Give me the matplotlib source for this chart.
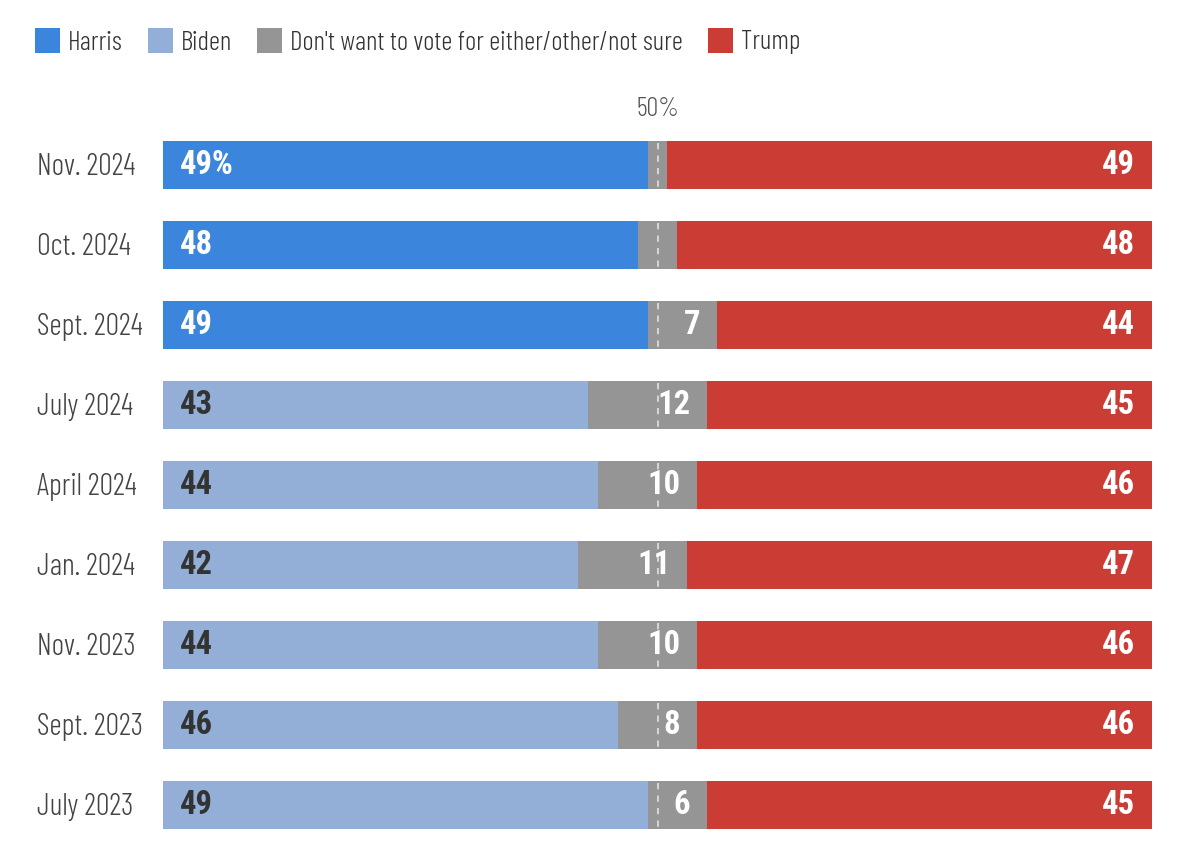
import matplotlib
matplotlib.use("Agg")
import matplotlib.pyplot as plt
from matplotlib.patches import Rectangle

# ---- data ----
periods = ["Nov. 2024", "Oct. 2024", "Sept. 2024", "July 2024", "April 2024",
           "Jan. 2024", "Nov. 2023", "Sept. 2023", "July 2023"]
dem_candidate = ["Harris", "Harris", "Harris", "Biden", "Biden",
                 "Biden", "Biden", "Biden", "Biden"]
dem_values = [49, 48, 49, 43, 44, 42, 44, 46, 49]
other_values = [2, 4, 7, 12, 10, 11, 10, 8, 6]
trump_values = [49, 48, 44, 45, 46, 47, 46, 46, 45]
legend_labels = ["Harris", "Biden", "Don't want to vote for either/other/not sure", "Trump"]

# ---- style ----
colors = {"Harris": "#3B86DC", "Biden": "#93AFD7", "Other": "#959595", "Trump": "#CA3C34"}
label_colors = {"Harris": "white", "Biden": "#333333"}
LIGHT = dict(family=["Barlow Condensed", "Roboto Condensed"], weight=300)
BOLD = dict(family=["Roboto Condensed"], weight="bold")
W, H = 1196, 858

fig = plt.figure(figsize=(W / 100, H / 100), dpi=100)
renderer = fig.canvas.get_renderer()


def fit_size(text, target_px, props, base=20):
    t = fig.text(0, 0, text, fontsize=base, **props)
    w = t.get_window_extent(renderer=renderer).width
    t.remove()
    return base * target_px / w


legend_fs = fit_size(legend_labels[2], 392, LIGHT)
cat_fs = fit_size("Nov. 2024", 99, LIGHT)
pct_fs = fit_size("50%", 43, LIGHT)
bold_fs = fit_size("49%", 54, BOLD)

ax = fig.add_axes([163 / W, 1 - 845 / H, 989 / W, 720 / H])
ax.set_xlim(0, 100)
ax.set_ylim(len(periods) - 0.5, -0.5)
ax.axis("off")

bar_h = 0.6
pad = 1.7
for i, (p, cand, d, o, t) in enumerate(zip(periods, dem_candidate, dem_values, other_values, trump_values)):
    ax.barh(i, d, left=0, height=bar_h, color=colors[cand], linewidth=0)
    ax.barh(i, o, left=d, height=bar_h, color=colors["Other"], linewidth=0)
    ax.barh(i, t, left=d + o, height=bar_h, color=colors["Trump"], linewidth=0)
    ax.plot([50, 50], [i - bar_h / 2 + 0.02, i + bar_h / 2 - 0.02], color="#D4D4D4",
            lw=1.5, ls=(0, (3, 3)), zorder=3)
    dlabel = f"{d}%" if i == 0 else f"{d}"
    ax.text(pad, i, dlabel, ha="left", va="center", color=label_colors[cand],
            fontsize=bold_fs, zorder=4, **BOLD)
    if o >= 5:
        ax.text(d + o - pad, i, f"{o}", ha="right", va="center", color="white",
                fontsize=bold_fs, zorder=4, **BOLD)
    ax.text(100 - pad, i, f"{t}", ha="right", va="center", color="white",
            fontsize=bold_fs, zorder=4, **BOLD)
    fig.text(37 / W, 1 - (167 + 80 * i) / H, p, ha="left", va="center",
             color="#444444", fontsize=cat_fs, **LIGHT)

ax.text(50, -0.55, "50%", ha="center", va="bottom", color="#555555",
        fontsize=pct_fs, transform=ax.transData, **LIGHT)

# legend (manual)
x = 35
sq = 25
ytop = 28
leg_colors = [colors["Harris"], colors["Biden"], colors["Other"], colors["Trump"]]
for lab, col in zip(legend_labels, leg_colors):
    fig.patches.append(Rectangle((x / W, 1 - (ytop + sq) / H), sq / W, sq / H,
                                 transform=fig.transFigure, color=col, linewidth=0))
    tx = fig.text((x + sq + 8) / W, 1 - (ytop + sq / 2 + 2) / H, lab, ha="left", va="center",
                  color="#333333", fontsize=legend_fs, **LIGHT)
    bb = tx.get_window_extent(renderer=renderer)
    x = bb.x1 + 25

fig.savefig("out.png", dpi=100)
